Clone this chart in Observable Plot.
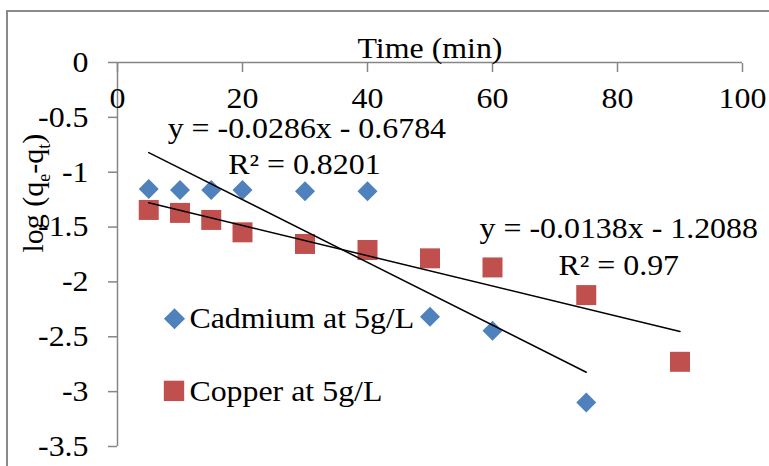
<!DOCTYPE html>
<html><head><meta charset="utf-8">
<script src="https://cdn.jsdelivr.net/npm/d3@7"></script>
<script src="https://cdn.jsdelivr.net/npm/@observablehq/plot@0.6"></script>
<style>
body{margin:0;background:#fff;}
#chart{position:relative;width:769px;height:466px;overflow:hidden;}
#border{position:absolute;left:6px;top:10px;width:800px;height:500px;border:2px solid #8a8a8a;box-sizing:border-box;pointer-events:none;}
</style></head><body><div id="chart"><div id="border"></div></div>
<script>
// ---- data ----
const timeCd = [5, 10, 15, 20, 30, 40, 50, 60, 75];
const logCd  = [-1.152, -1.162, -1.162, -1.162, -1.174, -1.174, -2.318, -2.445, -3.10];
const timeCu = [5, 10, 15, 20, 30, 40, 50, 60, 75, 90];
const logCu  = [-1.344, -1.371, -1.435, -1.548, -1.654, -1.709, -1.785, -1.868, -2.12, -2.728];
const trendCdX = [5, 75];
const trendCdY = [-0.821, -2.823];
const trendCuX = [5, 90];
const trendCuY = [-1.278, -2.451];
const xTicks = [0, 20, 40, 60, 80, 100];
const yTicks = [0, -0.5, -1, -1.5, -2, -2.5, -3, -3.5];
const seriesNames = ["Cadmium at 5g/L", "Copper at 5g/L"];
const eqLabels = ["y = -0.0286x - 0.6784", "R² = 0.8201", "y = -0.0138x - 1.2088", "R² = 0.97"];
const xTitle = "Time (min)";
const yTitle = "log (qe-qt)";

// ---- styling ----
const FONT = "'Liberation Serif','Times New Roman',serif";
const GREY = "#868686";
const BLUE = "#4F81BD";
const RED = "#C0504D";
const FS = 29;
const STRETCH = 1.1;

const cd = timeCd.map((t, i) => ({t, v: logCd[i]}));
const cu = timeCu.map((t, i) => ({t, v: logCu[i]}));
const trCd = trendCdX.map((t, i) => ({t, v: trendCdY[i]}));
const trCu = trendCuX.map((t, i) => ({t, v: trendCuY[i]}));

const plot = Plot.plot({
  width: 769, height: 466,
  marginLeft: 117, marginRight: 27, marginTop: 62, marginBottom: 20,
  x: {domain: [0, 100]},
  y: {domain: [-3.5, 0]},
  style: {fontFamily: FONT, fontSize: FS + "px", background: "transparent", overflow: "visible", color: "black"},
  marks: [
    Plot.ruleY([0], {stroke: GREY, strokeWidth: 1.5}),
    Plot.ruleX([0], {stroke: GREY, strokeWidth: 1.5}),
    Plot.axisX(xTicks, {anchor: "top", tickSize: -9, tickPadding: -36, stroke: GREY, fill: "black",
      strokeWidth: 1.5, fontSize: FS, label: null, tickFormat: d => String(d)}),
    Plot.axisY(yTicks, {anchor: "left", tickSize: 9, tickPadding: 20, stroke: GREY, fill: "black",
      strokeWidth: 1.5, fontSize: FS, label: null, tickFormat: d => String(d)}),
    Plot.text([xTitle], {frameAnchor: "top", dy: -5, lineAnchor: "bottom", fontSize: FS, fill: "black"}),
    Plot.text([yTitle], {frameAnchor: "left", dx: -84, dy: -2, rotate: -90, fontSize: 30, fill: "black", className: "ylab"}),
    Plot.dot(cd, {x: "t", y: "v", symbol: "diamond2", r: 9, fill: BLUE, stroke: "none"}),
    Plot.dot(cu, {x: "t", y: "v", symbol: "square", r: 11.28, fill: RED, stroke: "none"}),
    Plot.line(trCd, {x: "t", y: "v", stroke: "black", strokeWidth: 1.5}),
    Plot.line(trCu, {x: "t", y: "v", stroke: "black", strokeWidth: 1.5}),
    Plot.text([eqLabels[0]], {x: 30.3, y: -0.602, fontSize: FS, fill: "black"}),
    Plot.text([eqLabels[1]], {x: 29.9, y: -0.931, fontSize: FS, fill: "black"}),
    Plot.text([eqLabels[2]], {x: 80.2, y: -1.515, fontSize: FS, fill: "black"}),
    Plot.text([eqLabels[3]], {x: 80.2, y: -1.852, fontSize: FS, fill: "black"}),
    // legend
    Plot.dot([seriesNames[0]], {x: 9.12, y: -2.336, symbol: "diamond2", r: 9.5, fill: BLUE, stroke: "none"}),
    Plot.dot([seriesNames[1]], {x: 9.04, y: -2.993, symbol: "square", r: 11.5, fill: RED, stroke: "none"}),
    Plot.text([seriesNames[0]], {x: 11.5, y: -2.336, text: d => d, textAnchor: "start", fontSize: FS, fill: "black"}),
    Plot.text([seriesNames[1]], {x: 11.5, y: -3.0, text: d => d, textAnchor: "start", fontSize: FS, fill: "black"})
  ]
});
document.getElementById("chart").prepend(plot);

// subscripts in the y title
d3.select(plot).selectAll(".ylab text").each(function () {
  const t = d3.select(this);
  t.text(null);
  t.append("tspan").text("log (q");
  t.append("tspan").attr("dy", 7).attr("font-size", 18).text("e");
  t.append("tspan").attr("dy", -7).text("-q");
  t.append("tspan").attr("dy", 7).attr("font-size", 18).text("t");
  t.append("tspan").attr("dy", -7).text(")");
});

// the reference's lettering is slightly wide: stretch horizontal text a little
d3.select(plot).selectAll("text").each(function () {
  const tr = this.getAttribute("transform");
  if (tr && tr.includes("rotate")) return;
  if (tr) this.setAttribute("transform", tr + ` scale(${STRETCH},1)`);
});
</script>
</body></html>
